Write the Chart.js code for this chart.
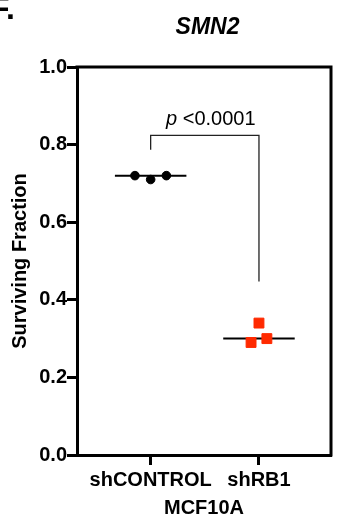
<!DOCTYPE html>
<html><head><meta charset="utf-8">
<script src="https://cdn.jsdelivr.net/npm/chart.js@4/dist/chart.umd.min.js"></script>
<style>html,body{margin:0;padding:0;background:#fff;overflow:hidden;}</style>
</head><body>
<canvas id="c" width="339" height="521" style="width:339px;height:521px;display:block"></canvas>
<script>
// ---- data ----
const categories = ['shCONTROL', 'shRB1'];
const controlValues = [0.72, 0.71, 0.72];
const rb1Values = [0.29, 0.34, 0.30];
const groupMeans = [0.72, 0.30];
const yTicks = [0.0, 0.2, 0.4, 0.6, 0.8, 1.0];
const bracketLevels = [0.787, 0.824, 0.824, 0.447];
const pLabel = ['p', ' <0.0001'];
const chartTitle = 'SMN2';
const panelLabel = 'F.';
const xTitle = 'MCF10A';
const yTitle = 'Surviving Fraction';

// ---- layout / style ----
const FONT = "'Liberation Sans', Arial, Helvetica, sans-serif";
const RED = '#ff2a00';
const spreadCtrl = 0.145, spreadRb1 = 0.073, meanHalf = 0.33;

const ctrlPts = controlValues.map((v, i) => ({x: 0 + (i - 1) * spreadCtrl, y: v}));
const rb1Pts = rb1Values.map((v, i) => ({x: 1 + (i - 1) * spreadRb1, y: v}));
const meanLine = (ci) => [{x: ci - meanHalf, y: groupMeans[ci]}, {x: ci + meanHalf, y: groupMeans[ci]}];
const bracketPts = [
  {x: 0, y: bracketLevels[0]}, {x: 0, y: bracketLevels[1]},
  {x: 1, y: bracketLevels[2]}, {x: 1, y: bracketLevels[3]}
];

const decor = {
  id: 'decor',
  afterDraw(chart) {
    const ctx = chart.ctx, a = chart.chartArea;
    const xs = chart.scales.x, ys = chart.scales.y;
    ctx.save();
    // top & right frame
    ctx.strokeStyle = '#000'; ctx.lineWidth = 3; ctx.lineCap = 'square';
    ctx.beginPath();
    ctx.moveTo(a.left, a.top); ctx.lineTo(a.right, a.top); ctx.lineTo(a.right, a.bottom);
    ctx.stroke();
    // title
    ctx.fillStyle = '#000';
    ctx.textAlign = 'center'; ctx.textBaseline = 'alphabetic';
    ctx.font = 'italic bold 23px ' + FONT;
    ctx.fillText(chartTitle, 207.5, 33.5);
    // panel label (cropped at the page edge)
    ctx.textAlign = 'left';
    ctx.font = 'bold 32px ' + FONT;
    ctx.fillText(panelLabel, -10, 19);
    // p value
    const cx = (xs.getPixelForValue(0) + xs.getPixelForValue(1)) / 2 + 6;
    const by = ys.getPixelForValue(bracketLevels[1]);
    ctx.font = 'italic 20px ' + FONT;
    const w1 = ctx.measureText(pLabel[0]).width;
    ctx.font = '20px ' + FONT;
    const w2 = ctx.measureText(pLabel[1]).width;
    let x0 = cx - (w1 + w2) / 2;
    ctx.font = 'italic 20px ' + FONT;
    ctx.fillText(pLabel[0], x0, by - 10);
    ctx.font = '20px ' + FONT;
    ctx.fillText(pLabel[1], x0 + w1, by - 10);
    ctx.restore();
  }
};

new Chart(document.getElementById('c'), {
  type: 'scatter',
  data: {
    datasets: [
      {data: ctrlPts, pointStyle: 'circle', pointRadius: 4.3, borderWidth: 1,
       backgroundColor: '#000', borderColor: '#000'},
      {data: rb1Pts, pointStyle: 'rect', pointRadius: 7, borderWidth: 1,
       backgroundColor: RED, borderColor: RED},
      {data: meanLine(0), showLine: true, borderColor: '#000', borderWidth: 2, pointRadius: 0},
      {data: meanLine(1), showLine: true, borderColor: '#000', borderWidth: 2, pointRadius: 0},
      {data: bracketPts, showLine: true, borderColor: '#222', borderWidth: 1.3, pointRadius: 0}
    ]
  },
  options: {
    responsive: false,
    animation: false,
    devicePixelRatio: 1,
    layout: {padding: {top: 67, right: 3, left: 0, bottom: 0}},
    plugins: {legend: {display: false}, tooltip: {enabled: false}, title: {display: false}},
    scales: {
      x: {
        type: 'linear', min: -0.68, max: 1.665,
        afterBuildTicks: (s) => { s.ticks = categories.map((c, i) => ({value: i})); },
        afterFit: (s) => { s.height = 66; },
        ticks: {
          callback: (v) => categories[v] ?? '',
          color: '#000', padding: 3, maxRotation: 0, autoSkip: false,
          font: {family: FONT, size: 20, weight: 'bold'}
        },
        grid: {drawOnChartArea: false, drawTicks: true, tickLength: 10, tickWidth: 3, tickColor: '#000'},
        border: {display: true, color: '#000', width: 3},
        title: {display: true, text: xTitle, color: '#000', padding: {top: 0, bottom: 1},
                font: {family: FONT, size: 20, weight: 'bold'}}
      },
      y: {
        type: 'linear', min: 0, max: 1,
        afterBuildTicks: (s) => { s.ticks = yTicks.map(v => ({value: v})); },
        afterFit: (s) => { s.width = 77; },
        ticks: {
          callback: (v) => Number(v).toFixed(1),
          color: '#000', padding: 0,
          font: {family: FONT, size: 20, weight: 'bold'}
        },
        grid: {drawOnChartArea: false, drawTicks: true, tickLength: 10, tickWidth: 3, tickColor: '#000'},
        border: {display: true, color: '#000', width: 3},
        title: {display: true, text: yTitle, color: '#000', padding: {top: 8, bottom: 0},
                font: {family: FONT, size: 20, weight: 'bold'}}
      }
    }
  },
  plugins: [decor]
});
</script>
</body></html>
